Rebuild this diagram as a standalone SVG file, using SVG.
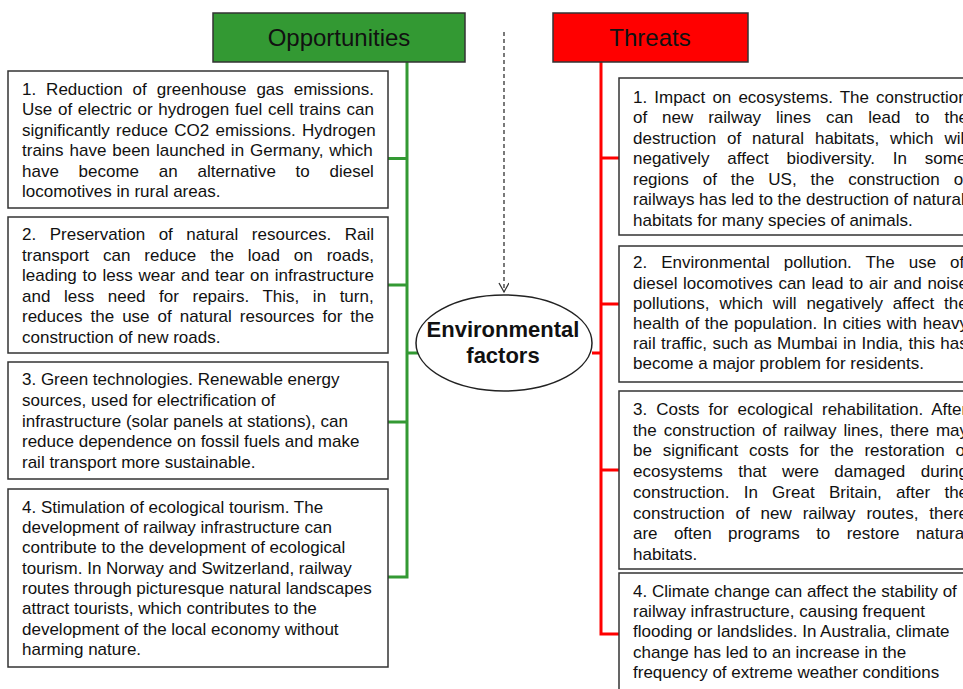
<svg xmlns="http://www.w3.org/2000/svg" width="963" height="689" viewBox="0 0 963 689">
<style>
.box{fill:#fff;stroke:#333;stroke-width:1.5}
.t{font-family:"Liberation Sans",Arial,sans-serif;font-size:17px;fill:#111}
.h{font-family:"Liberation Sans",Arial,sans-serif;font-size:24px;fill:#111;text-anchor:middle}
.c{font-family:"Liberation Sans",Arial,sans-serif;font-size:22px;font-weight:bold;fill:#111;text-anchor:middle}
.g{stroke:#339933;stroke-width:3;fill:none}
.r{stroke:#ff0000;stroke-width:3;fill:none}
</style>
<defs>
<marker id="open" markerWidth="12" markerHeight="12" refX="10" refY="5" orient="auto" markerUnits="userSpaceOnUse">
<path d="M1,0 L10,5 L1,10" fill="none" stroke="#333" stroke-width="1.3"/>
</marker>
</defs>
<g id="connectors">
<path class="g" d="M407,62 V577 H388 M388,158.5 H407 M388,285 H407 M388,422 H407 M407,353 H418"/>
<path class="r" d="M601,62 V634 H619 M601,158 H619 M601,304 H619 M601,470 H619 M592,353 H601"/>
<path d="M504,32 V292" stroke="#333" stroke-width="1.3" stroke-dasharray="4 3" fill="none" marker-end="url(#open)"/>
</g>
<g id="opportunities">
<rect x="213" y="13" width="252" height="49" fill="#339933" stroke="#333" stroke-width="1.5"/>
<text class="h" x="339" y="46">Opportunities</text>
</g>
<g id="threats">
<rect x="553" y="13" width="195" height="49" fill="#ff0000" stroke="#333" stroke-width="1.5"/>
<text class="h" x="650" y="46">Threats</text>
</g>
<g id="center">
<ellipse cx="504" cy="343" rx="88" ry="48" fill="#fff" stroke="#222" stroke-width="1.5"/>
<text class="c" x="503" y="337">Environmental</text>
<text class="c" x="503" y="363">factors</text>
</g>
<g id="opp1">
<rect class="box" x="8" y="71" width="380" height="137"/>
<text class="t" x="22" y="95" word-spacing="5.2">1. Reduction of greenhouse gas emissions.</text>
<text class="t" x="22" y="115.4" word-spacing="1.0">Use of electric or hydrogen fuel cell trains can</text>
<text class="t" x="22" y="135.8" word-spacing="1.5">significantly reduce CO2 emissions. Hydrogen</text>
<text class="t" x="22" y="156.2" word-spacing="1.18">trains have been launched in Germany, which</text>
<text class="t" x="22" y="176.6" word-spacing="15">have become an alternative to diesel</text>
<text class="t" x="22" y="197">locomotives in rural areas.</text>
</g>
<g id="opp2">
<rect class="box" x="8" y="217" width="380" height="136"/>
<text class="t" x="22" y="240" word-spacing="8.8">2. Preservation of natural resources. Rail</text>
<text class="t" x="22" y="260.5" word-spacing="9.2">transport can reduce the load on roads,</text>
<text class="t" x="22" y="281" word-spacing="1.0">leading to less wear and tear on infrastructure</text>
<text class="t" x="22" y="301.5" word-spacing="8.84">and less need for repairs. This, in turn,</text>
<text class="t" x="22" y="322" word-spacing="3.3">reduces the use of natural resources for the</text>
<text class="t" x="22" y="342.5">construction of new roads.</text>
</g>
<g id="opp3">
<rect class="box" x="8" y="362" width="380" height="117"/>
<text class="t" x="22" y="385">3. Green technologies. Renewable energy</text>
<text class="t" x="22" y="405.8">sources, used for electrification of</text>
<text class="t" x="22" y="426.6">infrastructure (solar panels at stations), can</text>
<text class="t" x="22" y="447.4">reduce dependence on fossil fuels and make</text>
<text class="t" x="22" y="468.2">rail transport more sustainable.</text>
</g>
<g id="opp4">
<rect class="box" x="8" y="489" width="380" height="178"/>
<text class="t" x="22" y="512.7">4. Stimulation of ecological tourism. The</text>
<text class="t" x="22" y="533">development of railway infrastructure can</text>
<text class="t" x="22" y="553.4">contribute to the development of ecological</text>
<text class="t" x="22" y="573.7">tourism. In Norway and Switzerland, railway</text>
<text class="t" x="22" y="594">routes through picturesque natural landscapes</text>
<text class="t" x="22" y="614.4">attract tourists, which contributes to the</text>
<text class="t" x="22" y="634.7">development of the local economy without</text>
<text class="t" x="22" y="655">harming nature.</text>
</g>
<g id="thr1">
<rect class="box" x="619" y="78" width="366" height="157"/>
<text class="t" x="633" y="102.7" word-spacing="2.38">1. Impact on ecosystems. The construction</text>
<text class="t" x="633" y="123.2" word-spacing="10.2">of new railway lines can lead to the</text>
<text class="t" x="633" y="143.7" word-spacing="6.16">destruction of natural habitats, which will</text>
<text class="t" x="633" y="164.2" word-spacing="13.1">negatively affect biodiversity. In some</text>
<text class="t" x="633" y="184.7" word-spacing="9.2">regions of the US, the construction of</text>
<text class="t" x="633" y="205.2">railways has led to the destruction of natural</text>
<text class="t" x="633" y="225.7">habitats for many species of animals.</text>
</g>
<g id="thr2">
<rect class="box" x="619" y="246" width="366" height="136"/>
<text class="t" x="633" y="268.3" word-spacing="9.24">2. Environmental pollution. The use of</text>
<text class="t" x="633" y="288.5" word-spacing="0.88">diesel locomotives can lead to air and noise</text>
<text class="t" x="633" y="308.7" word-spacing="5.2">pollutions, which will negatively affect the</text>
<text class="t" x="633" y="328.9" word-spacing="0.88">health of the population. In cities with heavy</text>
<text class="t" x="633" y="349.1" word-spacing="0.66">rail traffic, such as Mumbai in India, this has</text>
<text class="t" x="633" y="369.3">become a major problem for residents.</text>
</g>
<g id="thr3">
<rect class="box" x="619" y="391" width="366" height="178"/>
<text class="t" x="633" y="415" word-spacing="4.26">3. Costs for ecological rehabilitation. After</text>
<text class="t" x="633" y="435.7" word-spacing="2.3">the construction of railway lines, there may</text>
<text class="t" x="633" y="456.4" word-spacing="6.03">be significant costs for the restoration of</text>
<text class="t" x="633" y="477.1" word-spacing="10.75">ecosystems that were damaged during</text>
<text class="t" x="633" y="497.8" word-spacing="9.56">construction. In Great Britain, after the</text>
<text class="t" x="633" y="518.5" word-spacing="6.16">construction of new railway routes, there</text>
<text class="t" x="633" y="539.2" word-spacing="11.6">are often programs to restore natural</text>
<text class="t" x="633" y="560">habitats.</text>
</g>
<g id="thr4">
<rect class="box" x="619" y="573" width="366" height="130"/>
<text class="t" x="633" y="596.7">4. Climate change can affect the stability of</text>
<text class="t" x="633" y="617">railway infrastructure, causing frequent</text>
<text class="t" x="633" y="637.3">flooding or landslides. In Australia, climate</text>
<text class="t" x="633" y="657.6">change has led to an increase in the</text>
<text class="t" x="633" y="677.9">frequency of extreme weather conditions</text>
</g>
</svg>
